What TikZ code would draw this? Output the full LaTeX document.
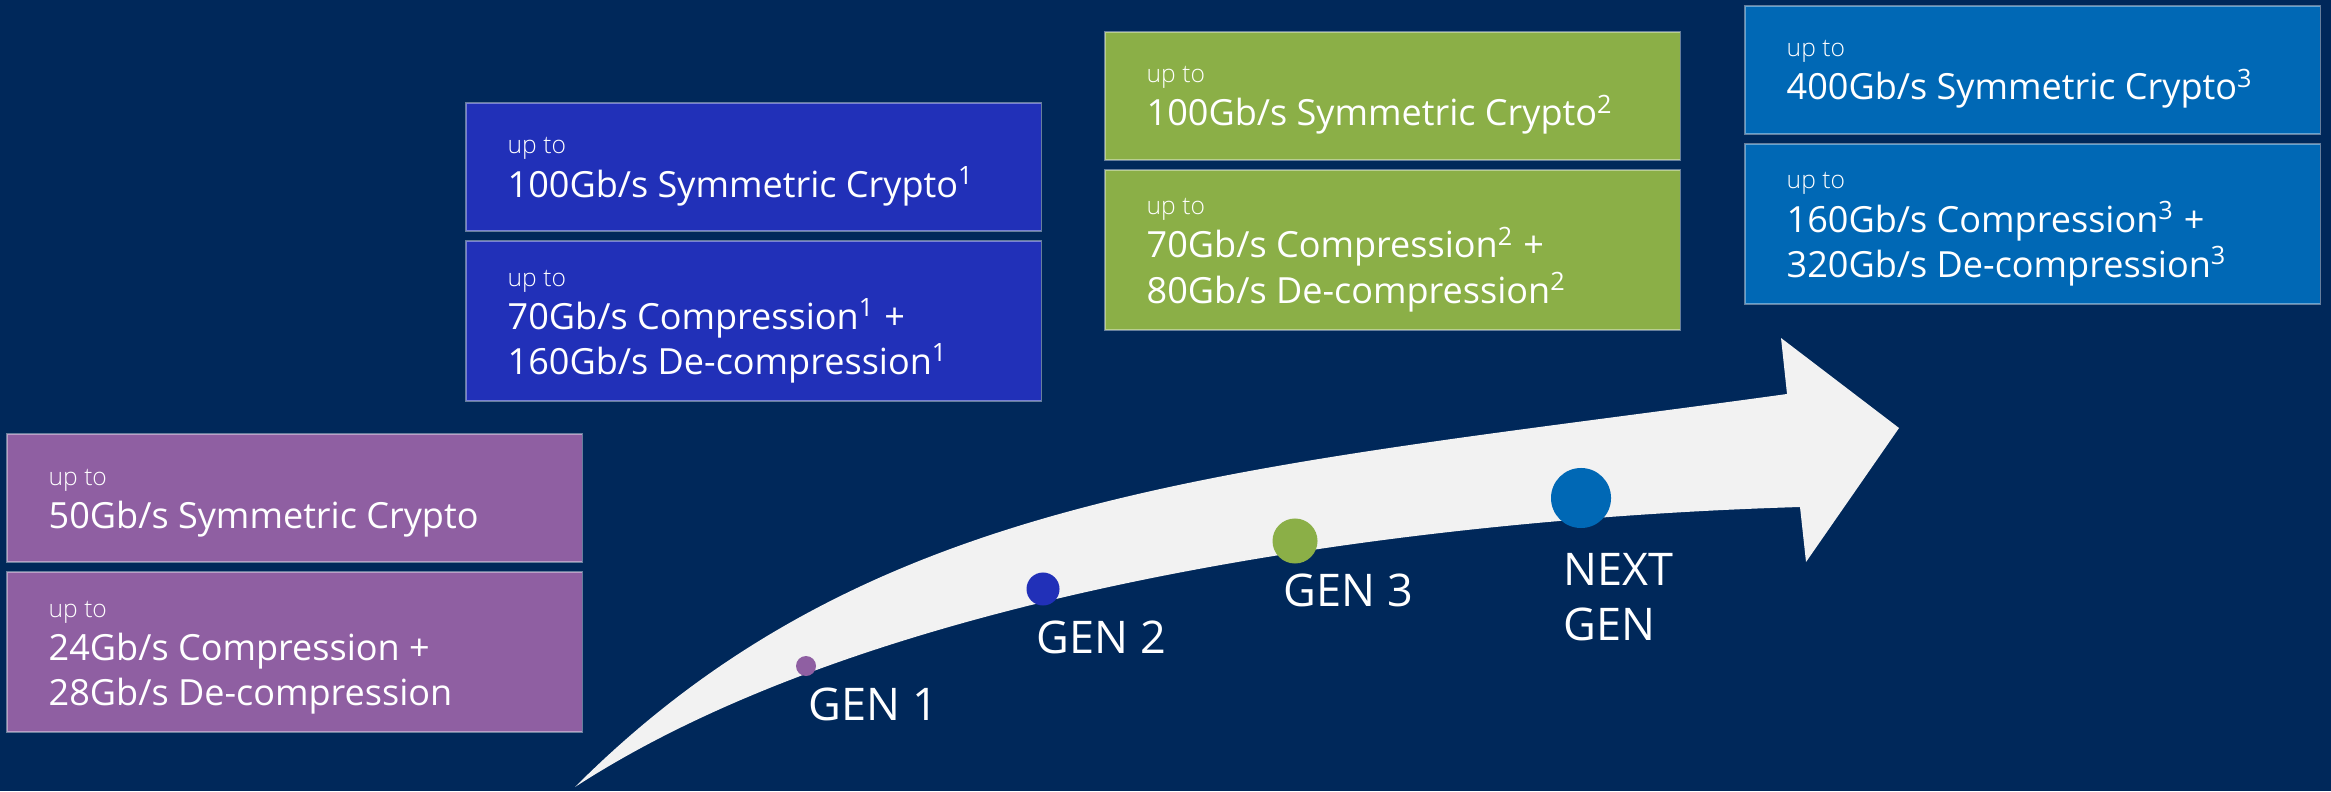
\documentclass[tikz,border=0pt]{standalone}
\usepackage{fontspec}
\setmainfont{Open Sans}
\newfontfamily\lightfont{Open Sans Light}
\usetikzlibrary{calc}

\definecolor{navy}{HTML}{00285A}
\definecolor{genpurple}{HTML}{8F5FA2}
\definecolor{genblue}{HTML}{2130B8}
\definecolor{gengreen}{HTML}{8BAF47}
\definecolor{gensky}{HTML}{0068B5}
\definecolor{arrowgray}{HTML}{F2F2F2}

\newcommand\fnote[1]{\textsuperscript{#1}}

\begin{document}
\begin{tikzpicture}[x=0.01cm, y=-0.01cm,
  panel/.style={draw=white, draw opacity=0.4, line width=0.4pt, inner sep=0pt,
    outer sep=0pt, anchor=north west, minimum width=5.75cm},
  shortpanel/.style={panel, minimum height=1.28cm},
  tallpanel/.style={panel, minimum height=1.60cm},
  uptext/.style={anchor=base west, inner sep=0pt, text=white,
    font=\lightfont\fontsize{7pt}{8pt}\selectfont},
  ratetext/.style={anchor=base west, inner sep=0pt, text=white,
    font=\fontsize{10.25pt}{13pt}\selectfont},
  gendot/.style={circle, inner sep=0pt, outer sep=0pt},
  genlabel/.style={anchor=base west, inner sep=0pt, text=white,
    font=\fontsize{12.8pt}{15.6pt}\selectfont}]

% canvas
\useasboundingbox (0,0) rectangle (2331,791);
\fill[navy] (0,0) rectangle (2331,791);

% progression arrow
\fill[arrowgray] (575,787) .. controls (875,487) and (1237,470) .. (1787,394)
  -- (1781,338) -- (1899,428) -- (1806,562) -- (1800,507)
  .. controls (1400,519) and (875,592) .. (575,787) -- cycle;

% generation markers
\node[gendot, fill=genpurple, minimum size=0.20cm] (d1) at (806,666) {};
\node[gendot, fill=genblue,   minimum size=0.33cm] (d2) at (1043,589) {};
\node[gendot, fill=gengreen,  minimum size=0.45cm] (d3) at (1295,541) {};
\node[gendot, fill=gensky,    minimum size=0.60cm] (d4) at (1581,498) {};

\node[genlabel] (g1) at (808,720) {GEN 1};
\node[genlabel] (g2) at (1036,653) {GEN 2};
\node[genlabel] (g3) at (1283,606) {GEN 3};
\node[genlabel] (g4a) at (1563,585) {NEXT};
\node[genlabel] (g4b) at (1563,640) {GEN};

% GEN 1 panels
\node[shortpanel, fill=genpurple] (p1) at (7,434) {};
\node[uptext]   (p1u) at ($(p1.north west)+(41,51)$) {up to};
\node[ratetext] (p1r) at ($(p1.north west)+(41,94)$) {50Gb/s Symmetric Crypto};
\node[tallpanel, fill=genpurple] (q1) at (7,572) {};
\node[uptext]   (q1u) at ($(q1.north west)+(41,45)$) {up to};
\node[ratetext] (q1r) at ($(q1.north west)+(41,88)$) {24Gb/s Compression +};
\node[ratetext] (q1s) at ($(q1.north west)+(41,133)$) {28Gb/s De-compression};

% GEN 2 panels
\node[shortpanel, fill=genblue] (p2) at (466,103) {};
\node[uptext]   (p2u) at ($(p2.north west)+(41,51)$) {up to};
\node[ratetext] (p2r) at ($(p2.north west)+(41,94)$) {100Gb/s Symmetric Crypto\fnote{1}};
\node[tallpanel, fill=genblue] (q2) at (466,241) {};
\node[uptext]   (q2u) at ($(q2.north west)+(41,45)$) {up to};
\node[ratetext] (q2r) at ($(q2.north west)+(41,88)$) {70Gb/s Compression\fnote{1} +};
\node[ratetext] (q2s) at ($(q2.north west)+(41,133)$) {160Gb/s De-compression\fnote{1}};

% GEN 3 panels
\node[shortpanel, fill=gengreen] (p3) at (1105,32) {};
\node[uptext]   (p3u) at ($(p3.north west)+(41,51)$) {up to};
\node[ratetext] (p3r) at ($(p3.north west)+(41,94)$) {100Gb/s Symmetric Crypto\fnote{2}};
\node[tallpanel, fill=gengreen] (q3) at (1105,170) {};
\node[uptext]   (q3u) at ($(q3.north west)+(41,45)$) {up to};
\node[ratetext] (q3r) at ($(q3.north west)+(41,88)$) {70Gb/s Compression\fnote{2} +};
\node[ratetext] (q3s) at ($(q3.north west)+(41,133)$) {80Gb/s De-compression\fnote{2}};

% next generation panels
\node[shortpanel, fill=gensky] (p4) at (1745,6) {};
\node[uptext]   (p4u) at ($(p4.north west)+(41,51)$) {up to};
\node[ratetext] (p4r) at ($(p4.north west)+(41,94)$) {400Gb/s Symmetric Crypto\fnote{3}};
\node[tallpanel, fill=gensky] (q4) at (1745,144) {};
\node[uptext]   (q4u) at ($(q4.north west)+(41,45)$) {up to};
\node[ratetext] (q4r) at ($(q4.north west)+(41,88)$) {160Gb/s Compression\fnote{3} +};
\node[ratetext] (q4s) at ($(q4.north west)+(41,133)$) {320Gb/s De-compression\fnote{3}};
\end{tikzpicture}
\end{document}
